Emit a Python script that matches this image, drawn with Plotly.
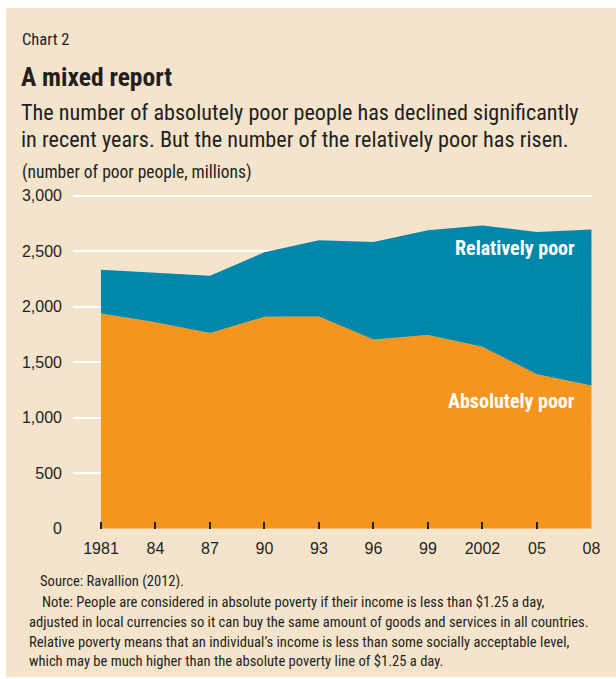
import plotly.graph_objects as go

# Poverty headcounts, millions of people
years = [1981, 1984, 1987, 1990, 1993, 1996, 1999, 2002, 2005, 2008]
year_labels = ["1981", "84", "87", "90", "93", "96", "99", "2002", "05", "08"]
absolutely_poor = [1938, 1858, 1763, 1908, 1910, 1704, 1743, 1639, 1389, 1289]
# relatively (but not absolutely) poor, stacked on top of the absolute count
relatively_poor = [395, 447, 516, 581, 687, 879, 945, 1091, 1284, 1405]
y_ticks = [0, 500, 1000, 1500, 2000, 2500, 3000]
y_tick_labels = ["0", "500", "1,000", "1,500", "2,000", "2,500", "3,000"]

W, H = 616, 679
L, R, T, B = 73, 592, 194, 529  # plot area in pixels

BEIGE = "#F3E4CB"
SKY = "#C7E9F8"
TEAL = "#0087AB"
ORANGE = "#F5951F"
INK = "#231F20"
NARROW = "Roboto Condensed, DejaVu Sans Condensed, sans-serif"
REGULAR = "Liberation Sans, Arial, sans-serif"


def px(x):
    return (x - L) / (R - L)


def py(y):
    return (B - y) / (B - T)


fig = go.Figure()
fig.add_trace(go.Scatter(
    x=years, y=absolutely_poor, stackgroup="poor", mode="lines",
    line=dict(width=0, color=ORANGE), fillcolor=ORANGE, name="Absolutely poor",
))
fig.add_trace(go.Scatter(
    x=years, y=relatively_poor, stackgroup="poor", mode="lines",
    line=dict(width=0, color=TEAL), fillcolor=TEAL, name="Relatively poor",
))

# beige card behind everything
fig.add_shape(type="rect", xref="paper", yref="paper",
              x0=px(6), x1=px(617), y0=py(677), y1=py(8),
              fillcolor=BEIGE, line=dict(width=0), layer="below")


def text(s, x, y, size, bold=False, color=INK, anchor="left", family=NARROW):
    fig.add_annotation(
        text=f"<b>{s}</b>" if bold else s,
        x=px(x), y=py(y), xref="paper", yref="paper",
        xanchor=anchor, yanchor="middle", showarrow=False,
        font=dict(family=family, size=size, color=color),
    )


text("Chart 2", 20, 40, 16.5)
text("A mixed report", 19, 77, 25.5, bold=True)
text("The number of absolutely poor people has declined significantly", 19, 112, 22.2)
text("in recent years. But the number of the relatively poor has risen.", 19, 139, 22.2)
text("(number of poor people, millions)", 20, 173, 17.5)

text("Relatively poor", 577, 248, 20, bold=True, color="white", anchor="right")
text("Absolutely poor", 577, 401, 20, bold=True, color="white", anchor="right")

text("Source: Ravallion (2012).", 38, 581, 14.6)
text("Note: People are considered in absolute poverty if their income is less than $1.25 a day,",
     40, 602, 14.6)
text("adjusted in local currencies so it can buy the same amount of goods and services in all countries.",
     27, 622, 14.6)
text("Relative poverty means that an individual\u2019s income is less than some socially acceptable level,",
     27, 642, 14.6)
text("which may be much higher than the absolute poverty line of $1.25 a day.",
     27, 661, 14.6)

fig.update_layout(
    width=W, height=H,
    margin=dict(l=L, r=W - R, t=T, b=H - B, pad=0),
    paper_bgcolor="white", plot_bgcolor=SKY,
    showlegend=False,
    xaxis=dict(
        range=[1979.46, 2008.03], tickmode="array", tickvals=years, ticktext=year_labels,
        ticks="inside", ticklen=7, tickwidth=1.5, tickcolor=INK,
        showgrid=False, zeroline=False, showline=False,
        tickfont=dict(family=REGULAR, size=16, color=INK),
    ),
    yaxis=dict(
        range=[-5, 3015], tickmode="array", tickvals=y_ticks, ticktext=y_tick_labels,
        showgrid=True, gridcolor="white", gridwidth=2, zeroline=False, showline=False,
        ticks="", ticklabelstandoff=10,
        tickfont=dict(family=REGULAR, size=16, color=INK),
    ),
)
fig.update_xaxes(ticklabelstandoff=8)

fig.write_html("out.html")
